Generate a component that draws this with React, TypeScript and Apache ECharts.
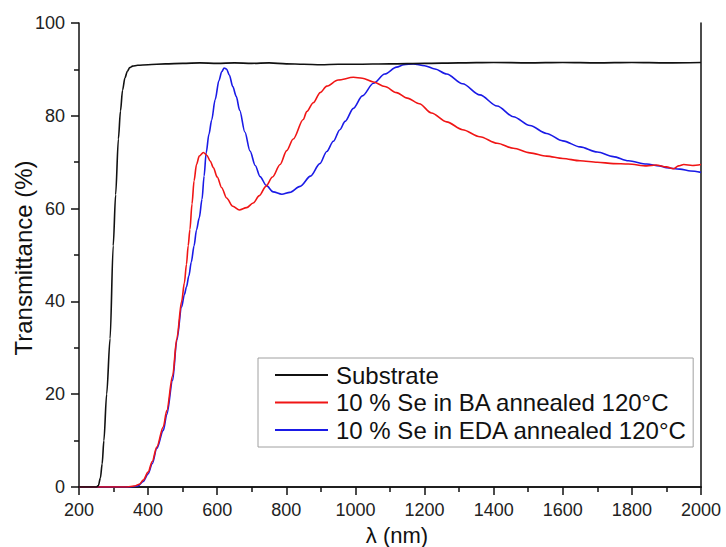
import React, { useEffect, useRef } from "react";
import * as echarts from "echarts";

const xTicks = [200, 2000, 200];
const yTicks = [0, 100, 20];

const seriesNames = [
  "Substrate",
  "10 % Se in BA annealed 120°C",
  "10 % Se in EDA annealed 120°C",
];

const substrateX = [200, 250, 256, 262, 267, 272, 280, 290, 299, 306, 314, 320, 326, 333, 340, 347, 355, 370, 400, 450, 500, 550, 600, 650, 700, 750, 800, 850, 900, 950, 1000, 1100, 1200, 1300, 1400, 1500, 1600, 1700, 1800, 1900, 2000];
const substrateY = [0, 0, 0.3, 2, 5, 10, 20, 32, 52, 63, 75, 81, 85.5, 88.2, 89.6, 90.4, 90.7, 90.9, 91.0, 91.2, 91.3, 91.4, 91.3, 91.4, 91.3, 91.4, 91.2, 91.1, 91.0, 91.1, 91.1, 91.2, 91.3, 91.4, 91.5, 91.4, 91.5, 91.4, 91.5, 91.4, 91.5];

const baX = [200, 340, 360, 375, 386, 400, 412, 425, 444, 454, 471, 483, 497, 505, 511, 516, 521, 527, 533, 540, 548, 560, 570, 580, 589, 600, 613, 627, 645, 664, 685, 704, 722, 741, 760, 782, 801, 820, 849, 859, 878, 898, 917, 950, 994, 1020, 1052, 1085, 1119, 1150, 1185, 1220, 1264, 1310, 1360, 1410, 1457, 1505, 1553, 1600, 1650, 1700, 1746, 1790, 1843, 1870, 1900, 1920, 1935, 1950, 1975, 2000];
const baY = [0, 0, 0.2, 0.6, 1.5, 3.2, 5.5, 8.6, 13, 16.5, 24, 32, 40, 44, 48, 52, 55.5, 61, 66, 69.5, 71.3, 72.1, 71.5, 70.2, 68.8, 66.8, 64.5, 62.3, 60.5, 59.7, 60.2, 61.2, 62.8, 64.8, 66.8, 69.5, 72.5, 75.0, 79.2, 80.9, 82.8, 85, 86.4, 87.7, 88.3, 88.1, 87.3, 86.3, 85.0, 83.8, 82.6, 80.6, 78.7, 77.0, 75.5, 74.1, 73.0, 72.0, 71.3, 70.8, 70.3, 70.0, 69.7, 69.6, 69.2, 69.4, 69.0, 68.6, 69.2, 69.5, 69.3, 69.5];

const edaX = [200, 350, 370, 386, 400, 412, 425, 444, 454, 471, 483, 497, 505, 511, 518, 525, 533, 540, 548, 556, 562, 568, 576, 584, 594, 605, 613, 620, 627, 635, 645, 655, 665, 680, 695, 710, 724, 742, 762, 787, 810, 840, 870, 897, 917, 936, 955, 970, 994, 1020, 1052, 1085, 1119, 1140, 1167, 1200, 1230, 1264, 1310, 1360, 1410, 1457, 1505, 1553, 1600, 1650, 1700, 1746, 1790, 1843, 1880, 1900, 1939, 1970, 2000];
const edaY = [0, 0, 0.2, 1.2, 2.8, 5, 8.3, 12.2, 15.6, 23, 31.6, 38.8, 41.5, 43.1, 45.5, 48.5, 52, 55.4, 58, 62, 67, 72, 76, 79.1, 83.5, 87.6, 89.5, 90.3, 90.1, 88.8, 86.3, 84.2, 81.2, 76.5, 72.4, 69.3, 66.9, 65.0, 63.6, 63.1, 63.5, 64.8, 67.0, 69.7, 72.3, 74.5, 77.0, 78.8, 81.6, 84.3, 87.0, 89.0, 90.5, 91.0, 91.2, 90.8, 90.1, 89.0, 86.9, 84.5, 82.1, 79.8, 77.9, 76.2, 74.6, 73.3, 72.2, 71.2, 70.3, 69.6, 69.2, 68.8, 68.5, 68.1, 67.8];

const colors = ["#111111", "#f01515", "#1a1ae6"];

const FONT = "'Liberation Sans', Arial, sans-serif";

function pairs(xs: number[], ys: number[]) {
  return xs.map((x, i) => [x, ys[i]]);
}

export default function App() {
  const ref = useRef<HTMLDivElement>(null);
  useEffect(() => {
    if (!ref.current) return;
    const chart = echarts.init(ref.current, undefined, { renderer: "svg" });
    const axisLine = { show: true, lineStyle: { color: "#111", width: 1.5 } };
    const tick = { show: true, inside: false, length: 8, lineStyle: { color: "#111", width: 1.5 } };
    const minor = { show: true, splitNumber: 2, length: 5, lineStyle: { color: "#111", width: 1.5 } };
    const label = {
      fontSize: 18,
      color: "#222",
      margin: 14,
      fontFamily: FONT,
      formatter: (v: number) => String(v),
    };
    const datasets = [
      pairs(substrateX, substrateY),
      pairs(baX, baY),
      pairs(edaX, edaY),
    ];
    chart.setOption({
      animation: false,
      backgroundColor: "#fff",
      textStyle: { fontFamily: FONT },
      grid: { left: 79, right: 25, top: 23, bottom: 60 },
      xAxis: [
        {
          type: "value",
          min: xTicks[0],
          max: xTicks[1],
          interval: xTicks[2],
          axisLine,
          axisTick: tick,
          minorTick: minor,
          splitLine: { show: false },
          minorSplitLine: { show: false },
          axisLabel: label,
        },
        {
          type: "value",
          position: "top",
          min: xTicks[0],
          max: xTicks[1],
          axisLine,
          axisTick: { show: false },
          axisLabel: { show: false },
          splitLine: { show: false },
        },
      ],
      yAxis: [
        {
          type: "value",
          min: yTicks[0],
          max: yTicks[1],
          interval: yTicks[2],
          axisLine,
          axisTick: tick,
          minorTick: minor,
          splitLine: { show: false },
          minorSplitLine: { show: false },
          axisLabel: label,
        },
        {
          type: "value",
          position: "right",
          min: yTicks[0],
          max: yTicks[1],
          axisLine,
          axisTick: { show: false },
          axisLabel: { show: false },
          splitLine: { show: false },
        },
      ],
      legend: {
        orient: "vertical",
        left: 258,
        top: 358,
        borderColor: "#a0a0a0",
        borderWidth: 1,
        padding: [5, 6, 5, 17],
        itemWidth: 53,
        itemHeight: 2,
        itemGap: 3.5,
        icon: "rect",
        textStyle: { fontSize: 24, lineHeight: 24, color: "#111", fontFamily: FONT, padding: [0, 0, 0, 3] },
        data: seriesNames,
      },
      series: seriesNames.map((name, i) => ({
        name,
        type: "line",
        data: datasets[i],
        showSymbol: false,
        symbol: "none",
        smooth: 0.3,
        smoothMonotone: "x",
        lineStyle: { color: colors[i], width: 1.6 },
        itemStyle: { color: colors[i] },
        z: 3 - i,
      })),
      graphic: [
        {
          type: "text",
          x: 23,
          y: 258,
          rotation: Math.PI / 2,
          style: {
            text: "Transmittance (%)",
            fontSize: 24,
            fontFamily: FONT,
            fill: "#111",
            textAlign: "center",
            textVerticalAlign: "middle",
          },
        },
        {
          type: "text",
          x: 397,
          y: 535,
          style: {
            text: "λ (nm)",
            fontSize: 22,
            fontFamily: FONT,
            fill: "#111",
            textAlign: "center",
            textVerticalAlign: "middle",
          },
        },
      ],
    });
    return () => chart.dispose();
  }, []);
  return (
    <div
      ref={ref}
      style={{ position: "fixed", left: 0, top: 0, width: 726, height: 547 }}
    />
  );
}
